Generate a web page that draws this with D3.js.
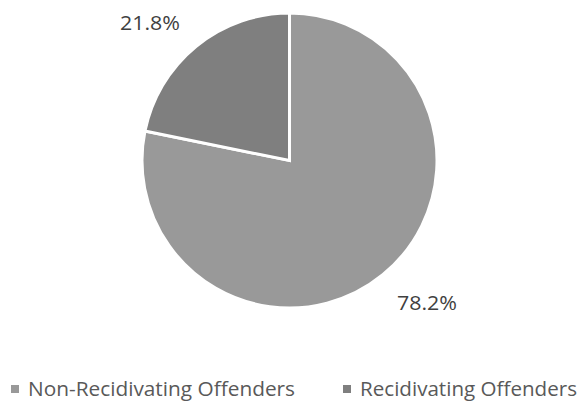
<!DOCTYPE html>
<html><head><meta charset="utf-8">
<script src="https://cdn.jsdelivr.net/npm/d3@7"></script>
<style>body{margin:0;background:#fff}svg{display:block}</style>
</head><body>
<svg id="c" width="582" height="401"></svg>
<script>
const categories = ["Non-Recidivating Offenders", "Recidivating Offenders"];
const values = [78.2, 21.8];
const labels = ["78.2%", "21.8%"];
const colors = ["#999999", "#7f7f7f"];

const svg = d3.select("#c");
const cx = 289.5, cy = 160.5, r = 147.5;
const font = "'Open Sans', 'Liberation Sans', sans-serif";

const pie = d3.pie().sort(null).value(d => d)(values);
const arc = d3.arc().innerRadius(0).outerRadius(r);
const g = svg.append("g").attr("transform", `translate(${cx},${cy})`);
g.selectAll("path").data(pie).join("path")
  .attr("d", arc)
  .attr("fill", (d, i) => colors[i])
  .attr("stroke", "#fff").attr("stroke-width", 3).attr("stroke-linejoin", "miter");

const labelPos = [[427 - cx, 310 - cy], [150 - cx, 30 - cy]];
g.selectAll("text.lbl").data(pie).join("text").attr("class", "lbl")
  .attr("x", (d, i) => labelPos[i][0])
  .attr("y", (d, i) => labelPos[i][1])
  .attr("text-anchor", "middle")
  .attr("font-family", font).attr("font-size", 20).attr("fill", "#404040")
  .attr("textLength", 60).attr("lengthAdjust", "spacingAndGlyphs")
  .text((d, i) => labels[i]);

const lx = [11, 343];
const tl = [267, 217];
const lg = svg.append("g");
categories.forEach((c, i) => {
  lg.append("rect").attr("x", lx[i]).attr("y", 385).attr("width", 8).attr("height", 8).attr("fill", colors[i]);
  lg.append("text").attr("x", lx[i] + 17).attr("y", 396)
    .attr("font-family", font).attr("font-size", 20).attr("fill", "#595959")
    .attr("textLength", tl[i]).attr("lengthAdjust", "spacingAndGlyphs")
    .text(c);
});
</script>
</body></html>
